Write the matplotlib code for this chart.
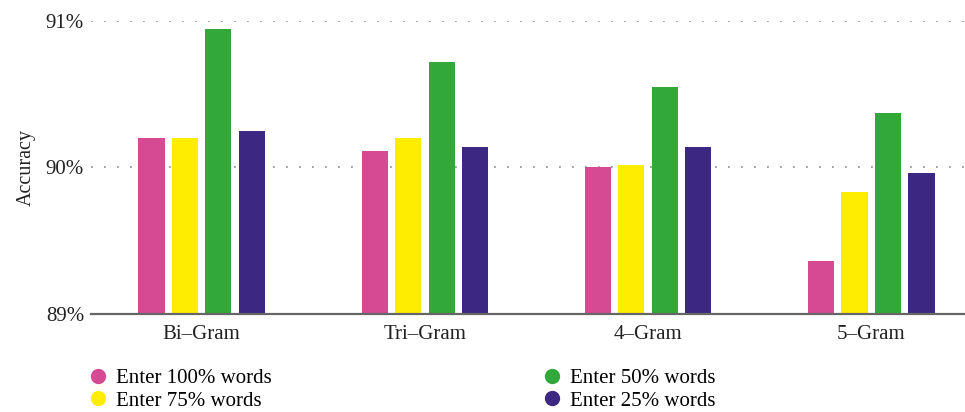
import matplotlib.pyplot as plt
import numpy as np

plt.rcParams['font.family'] = ['Liberation Serif', 'DejaVu Serif']

groups = ['Bi–Gram', 'Tri–Gram', '4–Gram', '5–Gram']
series = ['Enter 100% words', 'Enter 75% words', 'Enter 50% words', 'Enter 25% words']
acc_100 = [90.20, 90.11, 90.00, 89.36]
acc_75 = [90.20, 90.20, 90.02, 89.83]
acc_50 = [90.95, 90.72, 90.55, 90.37]
acc_25 = [90.25, 90.14, 90.14, 89.96]
colors = ['#d64a93', '#ffed00', '#32a83b', '#3c2782']

fig = plt.figure(figsize=(9.65, 4.12), dpi=100)
ax = fig.add_axes([0.0943, 0.239, 0.9057, 0.709])

x = np.arange(len(groups))
w = 0.117
step = 0.15
for i, (vals, c, lab) in enumerate(zip([acc_100, acc_75, acc_50, acc_25], colors, series)):
    ax.bar(x + (i - 1.5) * step, np.array(vals) - 89, bottom=89, width=w,
           color=c, label=lab, zorder=3)

ax.set_ylim(89, 91)
ax.set_xlim(-0.496, 3.42)
ax.set_yticks([89, 90, 91])
ax.set_yticklabels(['89%', '90%', '91%'])
ax.set_xticks(x)
ax.set_xticklabels(groups)
ax.tick_params(axis='both', length=0, labelsize=15, colors='#222222')
ax.tick_params(axis='y', pad=5)
ax.tick_params(axis='x', pad=8)

for yv in [90, 91]:
    ax.axhline(yv, color='#999999', lw=1.3, ls=(0, (1, 6.2)), zorder=1)

for s in ['top', 'left', 'right']:
    ax.spines[s].set_visible(False)
ax.spines['bottom'].set_color('#666666')
ax.spines['bottom'].set_linewidth(1.6)
ax.spines['bottom'].set_zorder(4)

ax.set_ylabel('Accuracy', fontsize=14.5, color='#222222', labelpad=7)

handles = [plt.Line2D([], [], marker='o', ls='', color=c, markersize=10) for c in colors]
fig.legend(handles, series, loc='upper left', bbox_to_anchor=(0.091, 0.106),
           ncol=2, frameon=False, fontsize=15, handletextpad=0.35,
           columnspacing=12.95, labelspacing=0.15, handlelength=1.0,
           borderaxespad=0, borderpad=0)

fig.savefig('out.png', dpi=100)
